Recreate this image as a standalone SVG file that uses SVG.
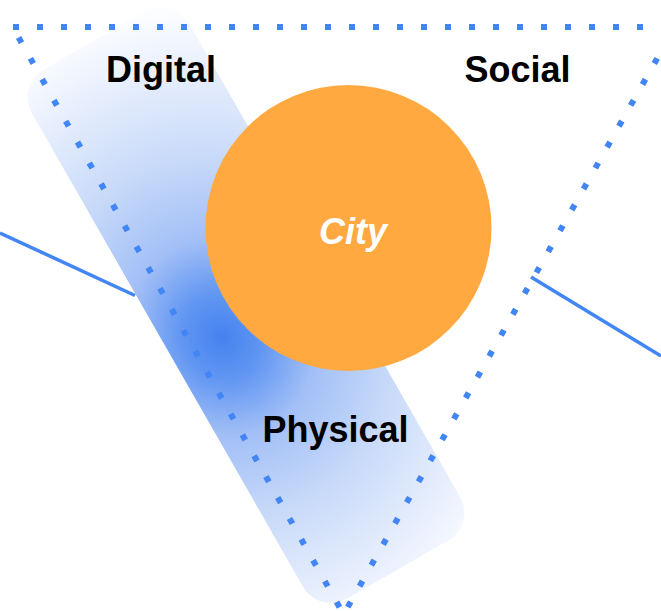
<svg xmlns="http://www.w3.org/2000/svg" width="661" height="611" viewBox="0 0 661 611">
  <defs>
    <radialGradient id="bandGrad" gradientUnits="userSpaceOnUse" cx="-37" cy="16" r="335" fx="-37" fy="16" gradientTransform="translate(-37 16) scale(0.9 1) translate(37 -16)">
      <stop offset="0" stop-color="#4482ef"/>
      <stop offset="0.13" stop-color="#6196f2"/>
      <stop offset="0.3" stop-color="#a2bff6"/>
      <stop offset="0.55" stop-color="#c8daf9"/>
      <stop offset="0.82" stop-color="#e8effd"/>
      <stop offset="1" stop-color="#fcfdff"/>
    </radialGradient>
  </defs>
  <style>
    .dots { fill: none; stroke: #4285F4; stroke-width: 6; stroke-dasharray: 6 18; }
    .conn { fill: none; stroke: #4285F4; stroke-width: 3.5; }
    .label { font-family: "Liberation Sans", Arial, sans-serif; font-weight: bold; font-size: 36px; fill: #000; text-anchor: middle; }
    .city { font-family: "Liberation Sans", Arial, sans-serif; font-weight: bold; font-style: italic; font-size: 36px; fill: #fff; text-anchor: middle; }
  </style>
  <g id="physical-band">
    <rect x="-90.5" y="-305" width="181" height="610" rx="32" ry="32" fill="url(#bandGrad)" transform="translate(246 305) rotate(-29.8)"/>
  </g>
  <g id="triangle">
    <path class="dots" d="M13 27 H665"/>
    <path class="dots" d="M12.7 27 L343.6 614.5" stroke-dashoffset="12"/>
    <path class="dots" d="M674.9 27 L343.6 614.5" stroke-dashoffset="12"/>
  </g>
  <g id="connectors">
    <path class="conn" d="M0 233 L135 295.5"/>
    <path class="conn" d="M531 277 L661 356"/>
  </g>
  <g id="city">
    <circle cx="348.5" cy="228" r="143" fill="#FFA940"/>
    <text class="city" x="353" y="244">City</text>
  </g>
  <g id="digital"><text class="label" x="161" y="82">Digital</text></g>
  <g id="social"><text class="label" x="517.5" y="82">Social</text></g>
  <g id="physical"><text class="label" x="335.5" y="442">Physical</text></g>
</svg>
